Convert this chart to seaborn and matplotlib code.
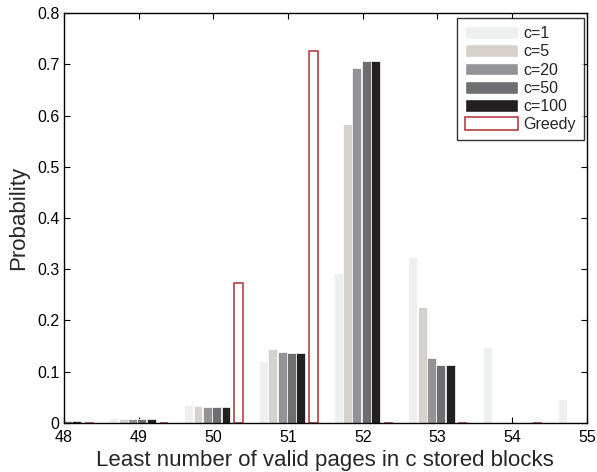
import numpy as np
import pandas as pd
import matplotlib
matplotlib.use("Agg")
import matplotlib.pyplot as plt
import seaborn as sns
from matplotlib.patches import Patch
from matplotlib.ticker import FuncFormatter

# least number of valid pages (x categories)
pages = [48, 49, 50, 51, 52, 53, 54, 55]

# probabilities
c1 = [0.0, 0.009, 0.035, 0.121, 0.292, 0.323, 0.149, 0.046]
c5 = [0.0, 0.008, 0.033, 0.144, 0.583, 0.226, 0.0, 0.001]
c20 = [0.0, 0.008, 0.031, 0.138, 0.694, 0.126, 0.0, 0.0]
c50 = [0.003, 0.008, 0.031, 0.137, 0.706, 0.113, 0.0, 0.0]
c100 = [0.003, 0.008, 0.031, 0.137, 0.706, 0.113, 0.0, 0.0]
greedy = [0.0, 0.0, 0.274, 0.726, 0.0, 0.0, 0.0, 0.0]

series = {'c=1': c1, 'c=5': c5, 'c=20': c20, 'c=50': c50, 'c=100': c100}
colors = ['#eef0ef', '#d6d1cb', '#929396', '#6d6e71', '#231f20']
red = '#ad3036'

# bar offsets inside each group
offsets = {'c=1': -0.33, 'c=5': -0.205, 'c=20': -0.08, 'c=50': 0.045, 'c=100': 0.17}
greedy_offset = 0.34

rows = []
for name, vals in series.items():
    for p, v in zip(pages, vals):
        rows.append({'pos': p + offsets[name], 'prob': v, 'series': name})
df = pd.DataFrame(rows)
df_g = pd.DataFrame({'pos': [p + greedy_offset for p in pages], 'prob': greedy})

sns.set_style('ticks')
plt.rcParams['font.family'] = ['Liberation Sans', 'DejaVu Sans']

fig = plt.figure(figsize=(5.97, 4.72), dpi=100)
ax = fig.add_axes([0.107, 0.104, 0.876, 0.868])

sns.barplot(data=df, x='pos', y='prob', hue='series', palette=colors,
            hue_order=list(series.keys()), native_scale=True, dodge=False,
            width=0.96, errorbar=None, edgecolor='white', linewidth=0.5,
            legend=False, ax=ax)
sns.barplot(data=df_g, x='pos', y='prob', native_scale=True, fill=False,
            color=red, width=0.12, linewidth=1.1, errorbar=None, ax=ax)

ax.set_xlim(48, 55)
ax.set_ylim(0, 0.8)
ax.set_xticks(pages)
ax.set_xticklabels([str(p) for p in pages])
ax.set_yticks(np.arange(0, 0.81, 0.1))
ax.yaxis.set_major_formatter(FuncFormatter(lambda v, _: '0' if abs(v) < 1e-9 else f'{v:.1f}'))
ax.tick_params(direction='in', top=True, right=True, labelsize=11.5,
               length=4, width=0.8, colors='black')
ax.tick_params(axis='x', pad=5)
ax.tick_params(axis='y', pad=3)
for s in ax.spines.values():
    s.set_visible(True)
    s.set_linewidth(1.0)
    s.set_color('black')

ax.set_xlabel('Least number of valid pages in c stored blocks', fontsize=16, labelpad=4)
ax.set_ylabel('Probability', fontsize=16, labelpad=6)

handles = [Patch(facecolor=col, edgecolor='white', label=name)
           for name, col in zip(series.keys(), colors)]
handles.append(Patch(facecolor='white', edgecolor=red, linewidth=1.1, label='Greedy'))
leg = ax.legend(handles=handles, loc='upper right', fontsize=11.5, frameon=True,
                fancybox=False, edgecolor='black', handlelength=3.35, handleheight=0.85,
                handletextpad=0.3, labelspacing=0.2, borderpad=0.5,
                borderaxespad=0, bbox_to_anchor=(0.994, 0.988))
leg.get_frame().set_linewidth(1.0)

fig.savefig('out.png', dpi=100)
